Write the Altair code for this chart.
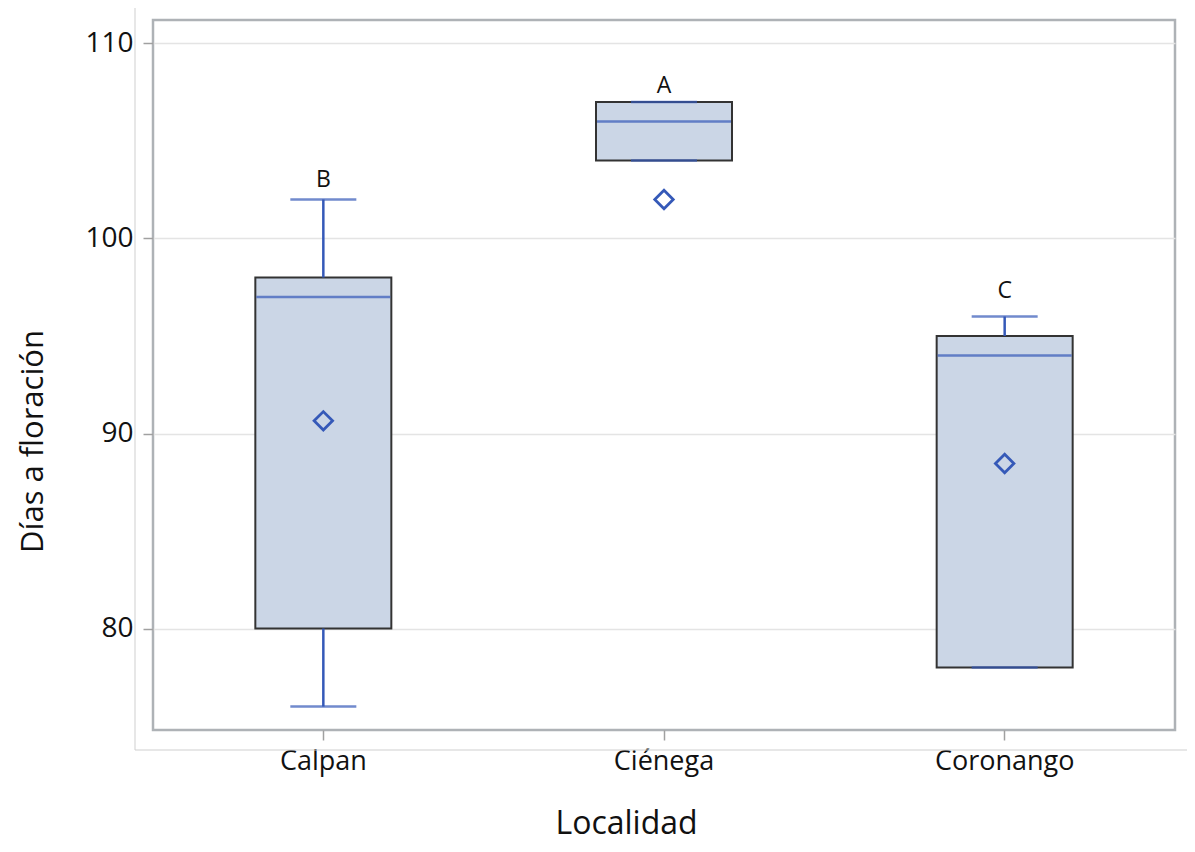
import altair as alt
import pandas as pd

categories = ["Calpan", "Ciénega", "Coronango"]
whisker_low = [76, 104, 78]
q1 = [80, 104, 78]
median = [97, 106, 94]
q3 = [98, 107, 95]
whisker_high = [102, 107, 96]
means = [90.65, 102, 88.46]
letters = ["B", "A", "C"]
letter_y = [103.0, 107.8, 97.3]
y_ticks = [80, 90, 100, 110]

df = pd.DataFrame({
    "Localidad": categories,
    "lo": whisker_low,
    "q1": q1,
    "med": median,
    "q3": q3,
    "hi": whisker_high,
    "mean": means,
    "letter": letters,
    "ly": letter_y,
})

FONT = "Open Sans"
BLUE = "#3559b8"
FILL = "#cbd6e6"

xenc = alt.X(
    "Localidad:N",
    sort=categories,
    scale=alt.Scale(paddingInner=0, paddingOuter=0),
    axis=alt.Axis(
        title="Localidad", labelAngle=0, labelFontSize=27, labelColor="#111",
        labelPadding=8, tickSize=10, tickColor="#a0a0a0", tickWidth=1.5,
        domain=False, grid=False, titleFontSize=32, titleFontWeight="normal",
        titleColor="#111", titleX=473, titleY=103, titleBaseline="alphabetic",
        titleAlign="center",
    ),
)
yscale = alt.Scale(domain=[74.8, 111.2], nice=False, zero=False)
yaxis = alt.Axis(
    title="Días a floración", values=y_ticks, labelFontSize=28, labelColor="#111",
    labelPadding=10, tickSize=10, tickColor="#a0a0a0", tickWidth=1.5,
    domain=False, grid=True, gridColor="#e4e4e4", gridWidth=1.5,
    titleFontSize=31, titleFontWeight="normal", titleColor="#111",
    titleX=-111, titleY=421, titleAngle=-90, titleAlign="center",
    titleBaseline="alphabetic",
)

base = alt.Chart(df)

box = base.mark_bar(size=136, fill=FILL, stroke="#333333", strokeWidth=2).encode(
    x=xenc,
    y=alt.Y("q1:Q", scale=yscale, axis=yaxis),
    y2="q3:Q",
)
wh_up = base.mark_rule(color=BLUE, strokeWidth=2.5).encode(
    x=alt.X("Localidad:N", sort=categories), y="q3:Q", y2="hi:Q")
wh_lo = base.mark_rule(color=BLUE, strokeWidth=2.5).encode(
    x=alt.X("Localidad:N", sort=categories), y="lo:Q", y2="q1:Q")
cap_hi = base.mark_tick(color=BLUE, size=66, thickness=2.5).encode(
    x=alt.X("Localidad:N", sort=categories), y="hi:Q")
cap_lo = base.mark_tick(color=BLUE, size=66, thickness=2.5).encode(
    x=alt.X("Localidad:N", sort=categories), y="lo:Q")
med = base.mark_tick(color=BLUE, size=134, thickness=2.5).encode(
    x=alt.X("Localidad:N", sort=categories), y="med:Q")
mean_pt = base.mark_point(shape="diamond", size=340, color=BLUE, strokeWidth=2.8,
                          filled=False, opacity=1).encode(
    x=alt.X("Localidad:N", sort=categories), y="mean:Q")
txt = base.mark_text(font=FONT, fontSize=23, color="#111", baseline="middle").encode(
    x=alt.X("Localidad:N", sort=categories), y="ly:Q", text="letter:N")

deco = alt.Chart(pd.DataFrame({"a": [0]}))
vline = deco.mark_rule(color="#cfcfcf", strokeWidth=1).encode(
    x=alt.value(-18), y=alt.value(-15), y2=alt.value(730))
hline = deco.mark_rule(color="#cfcfcf", strokeWidth=1).encode(
    x=alt.value(-18), x2=alt.value(1042), y=alt.value(730))

chart = alt.layer(
    vline, hline, box, wh_up, wh_lo, cap_hi, cap_lo, med, mean_pt, txt
).properties(
    width=1022, height=710,
    autosize=alt.AutoSizeParams(type="none"),
    padding={"left": 145, "top": 12, "right": 12, "bottom": 112},
).configure(font=FONT).configure_view(
    stroke="#aeb2b6", strokeWidth=2.5
)

chart.save("out.html", embed_options={"renderer": "svg", "actions": False})
